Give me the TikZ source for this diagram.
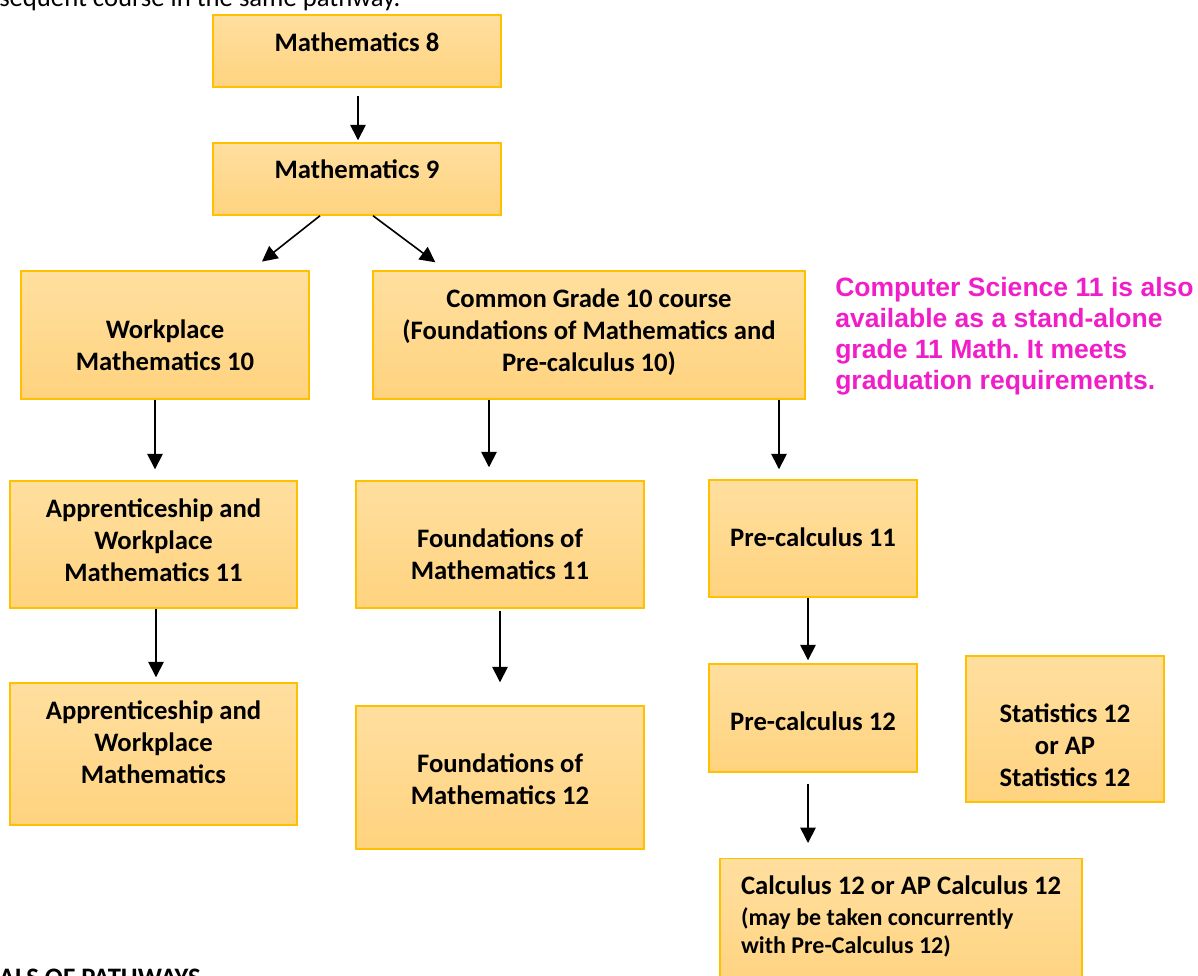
\documentclass[tikz,border=0pt]{standalone}
\usepackage{fontspec}
\setmainfont{Carlito}
\newfontfamily\notefont{Liberation Sans}
\usetikzlibrary{arrows.meta}
\definecolor{boxtop}{HTML}{FFDF9F}
\definecolor{boxbottom}{HTML}{FFD37F}
\definecolor{boxline}{HTML}{FFC000}
\definecolor{notepink}{RGB}{240,30,200}
\newcommand{\topgap}[1]{\rule{0pt}{#1}}
\newcommand{\botgap}[1]{\rule[-#1]{0pt}{#1}}
\frenchspacing
\tikzset{
    course/.style={
        rectangle, draw=boxline, line width=1.1pt,
        top color=boxtop, bottom color=boxbottom,
        minimum width=216pt, minimum height=54pt, inner sep=0pt,
        align=center, font=\bfseries\fontsize{20}{24}\selectfont
    },
    link/.style={draw=black, line width=1.2pt, -{Triangle[length=11.5pt, width=11.5pt]}},
    note/.style={
        text=notepink, align=left, inner sep=0pt,
        font=\notefont\bfseries\fontsize{19.9}{23.25}\selectfont
    }
}

\begin{document}
\begin{tikzpicture}[x=0.75pt, y=-0.75pt]
\useasboundingbox (0,0) rectangle (1198,975);
\clip (0,0) rectangle (1198,975);

% page text cut by the frame
\node[anchor=base west, inner sep=0pt, font=\fontsize{20}{24}\selectfont] (intro) at (-1,6) {sequent course in the same pathway.};
\node[anchor=base east, inner sep=0pt, font=\bfseries\fontsize{20}{24}\selectfont] (goals) at (201,986) {ALS OF PATHWAYS};

% grade 8 and 9
\node[course] (m8) at (357,51) {\topgap{16.5pt}Mathematics 8\botgap{16.5pt}};
\node[course] (m9) at (357,179) {\topgap{16.5pt}Mathematics 9\botgap{18pt}};

% grade 10
\node[course, minimum height=96pt] (w10) at (165,335) {\topgap{34.5pt}Workplace\\Mathematics 10\botgap{6pt}};
\node[course, minimum width=324pt, minimum height=96pt] (cg) at (589,335) {\topgap{16.5pt}Common Grade 10 course\\(Foundations of Mathematics and\\Pre-calculus 10)\botgap{10.5pt}};
\node[note, anchor=north west] (cs) at (835,275) {\topgap{16pt}Computer Science 11 is also\\available as a stand-alone\\grade 11 Math. It meets\\graduation requirements.};

% grade 11
\node[course, minimum width=215.25pt, minimum height=95.25pt] (a11) at (153.5,544.5) {\topgap{16.5pt}Apprenticeship and\\Workplace\\Mathematics 11\botgap{9.75pt}};
\node[course, minimum height=95.25pt] (f11) at (500,544.5) {\topgap{34.5pt}Foundations of\\Mathematics 11\botgap{6pt}};
\node[course, minimum width=156pt, minimum height=87.75pt] (p11) at (813,538.5) {\topgap{16.5pt}Pre-calculus 11\botgap{5.25pt}};

% grade 12
\node[course, minimum width=215.25pt, minimum height=106.5pt] (am) at (153.5,754) {\topgap{16.5pt}Apprenticeship and\\Workplace\\Mathematics\botgap{21pt}};
\node[course, minimum height=107.25pt] (f12) at (500,777.5) {\topgap{22.5pt}Foundations of\\Mathematics 12\botgap{6pt}};
\node[course, minimum width=156pt, minimum height=81pt] (p12) at (813,718) {\topgap{24pt}Pre-calculus 12\botgap{6pt}};
\node[course, minimum width=148.5pt, minimum height=109.5pt] (st) at (1065,729) {\topgap{43.5pt}Statistics 12\\or AP\\Statistics 12\botgap{6pt}};
\node[course, minimum width=271.5pt, minimum height=0pt, anchor=north, align=left] (calc) at (901,858) {\topgap{27pt}Calculus 12 or AP Calculus 12\\[-0.75pt]\fontsize{18}{21}\selectfont (may be taken concurrently\\[-3pt]\fontsize{18}{21}\selectfont with Pre-Calculus 12)\botgap{30pt}};

% arrows
\draw[link, shorten <=6pt, shorten >=1.5pt] (m8.south -| 358,0) -- (m9.north -| 358,0);
\draw[link, shorten >=10.5pt] (m9.south -| 320,0) -- (w10.north -| 251,0);
\draw[link, shorten >=10pt] (m9.south -| 373,0) -- (cg.north -| 446,0);
\draw[link, shorten >=8.25pt] (w10.south -| 155,0) -- (a11.north -| 155,0);
\draw[link, shorten >=9.75pt] (cg.south -| 489,0) -- (f11.north -| 489,0);
\draw[link, shorten >=7.5pt] (cg.south -| 779,0) -- (p11.north -| 779,0);
\draw[link, shorten >=3.75pt] (a11.south -| 156,0) -- (am.north -| 156,0);
\draw[link, shorten <=1.5pt, shorten >=17.25pt] (f11.south -| 500,0) -- (f12.north -| 500,0);
\draw[link, shorten >=2.25pt] (p11.south -| 808,0) -- (p12.north -| 808,0);
\draw[link, shorten <=8.25pt, shorten >=11.25pt] (p12.south -| 808,0) -- (calc.north -| 808,0);

\end{tikzpicture}
\end{document}
